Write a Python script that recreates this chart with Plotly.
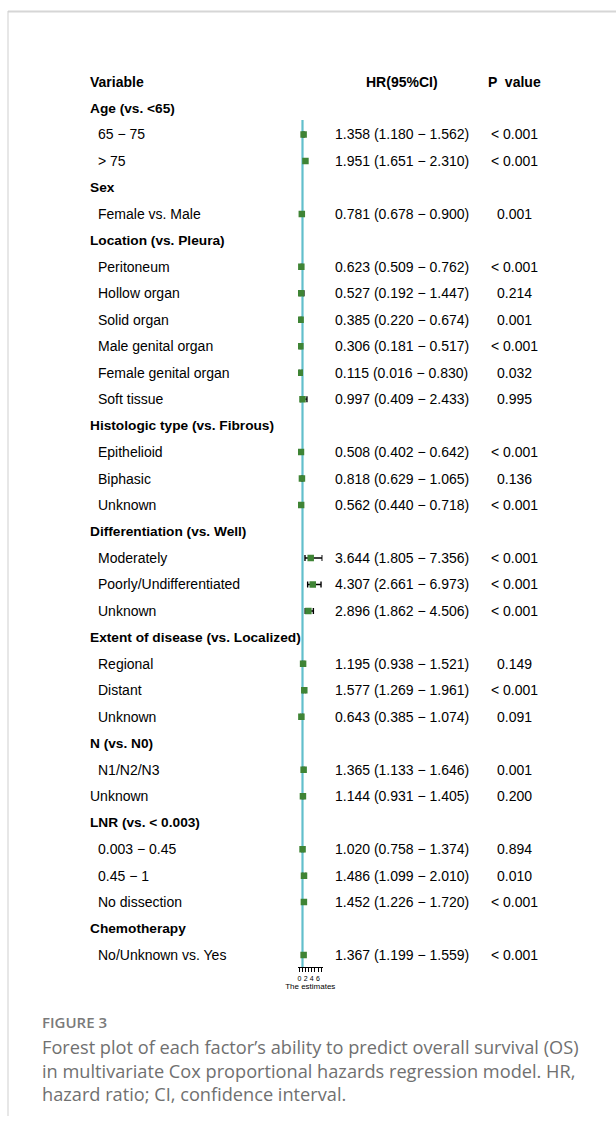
import plotly.graph_objects as go

# ---- data -------------------------------------------------------------
labels = [
    "Age (vs. <65)", "65 − 75", "> 75",
    "Sex", "Female vs. Male",
    "Location (vs. Pleura)", "Peritoneum", "Hollow organ", "Solid organ",
    "Male genital organ", "Female genital organ", "Soft tissue",
    "Histologic type (vs. Fibrous)", "Epithelioid", "Biphasic", "Unknown",
    "Differentiation (vs. Well)", "Moderately", "Poorly/Undifferentiated", "Unknown",
    "Extent of disease (vs. Localized)", "Regional", "Distant", "Unknown",
    "N (vs. N0)", "N1/N2/N3", "Unknown",
    "LNR (vs. < 0.003)", "0.003 − 0.45", "0.45 − 1", "No dissection",
    "Chemotherapy", "No/Unknown vs. Yes",
]
# row kind: group heading, indented level, or plain level
kinds = [
    "group", "item", "item",
    "group", "item",
    "group", "item", "item", "item", "item", "item", "item",
    "group", "item", "item", "item",
    "group", "item", "item", "item",
    "group", "item", "item", "item",
    "group", "item", "plain",
    "group", "item", "item", "item",
    "group", "item",
]
hr = [None, 1.358, 1.951, None, 0.781, None, 0.623, 0.527, 0.385, 0.306, 0.115, 0.997,
      None, 0.508, 0.818, 0.562, None, 3.644, 4.307, 2.896, None, 1.195, 1.577, 0.643,
      None, 1.365, 1.144, None, 1.020, 1.486, 1.452, None, 1.367]
ci_low = [None, 1.180, 1.651, None, 0.678, None, 0.509, 0.192, 0.220, 0.181, 0.016, 0.409,
          None, 0.402, 0.629, 0.440, None, 1.805, 2.661, 1.862, None, 0.938, 1.269, 0.385,
          None, 1.133, 0.931, None, 0.758, 1.099, 1.226, None, 1.199]
ci_high = [None, 1.562, 2.310, None, 0.900, None, 0.762, 1.447, 0.674, 0.517, 0.830, 2.433,
           None, 0.642, 1.065, 0.718, None, 7.356, 6.973, 4.506, None, 1.521, 1.961, 1.074,
           None, 1.646, 1.405, None, 1.374, 2.010, 1.720, None, 1.559]
p_values = ["", "< 0.001", "< 0.001", "", "0.001", "", "< 0.001", "0.214", "0.001", "< 0.001",
            "0.032", "0.995", "", "< 0.001", "0.136", "< 0.001", "", "< 0.001", "< 0.001",
            "< 0.001", "", "0.149", "< 0.001", "0.091", "", "0.001", "0.200", "", "0.894",
            "0.010", "< 0.001", "", "< 0.001"]
x_ticks = [0, 1, 2, 3, 4, 5, 6, 7]
x_tick_text = ["0", "", "2", "", "4", "", "6", ""]
caption_title = "FIGURE 3"
caption_lines = [
    "Forest plot of each factor’s ability to predict overall survival (OS)",
    "in multivariate Cox proportional hazards regression model. HR,",
    "hazard ratio; CI, confidence interval.",
]

# ---- page geometry ------------------------------------------------------
W, H = 616, 1124
ROW0_PX, ROW_STEP = 108.0, 26.47          # pixel centre of row 0, row pitch
AXIS_PX = 967                             # pixel row of the estimate axis


def px_to_row(py):
    return (py - ROW0_PX) / ROW_STEP


def fx(px):
    return px / W


def fy(py):
    return 1 - py / H


TEXT_FONT = "Liberation Sans, Arial, sans-serif"
CAP_FONT = "Open Sans, Lato, sans-serif"
GREEN = "#3f8435"
REF_LINE = "#62bfcc"

rows = list(range(len(labels)))
data_rows = [r for r in rows if hr[r] is not None]
est = [hr[r] for r in data_rows]
err_plus = [ci_high[r] - hr[r] for r in data_rows]
err_minus = [hr[r] - ci_low[r] for r in data_rows]

fig = go.Figure()

# reference line at HR = 1
fig.add_trace(go.Scatter(
    x=[1, 1], y=[px_to_row(120), px_to_row(AXIS_PX)],
    mode="lines", line=dict(color=REF_LINE, width=2.2),
    hoverinfo="skip", showlegend=False,
))

# point estimates with 95% CI whiskers
fig.add_trace(go.Scatter(
    x=est, y=data_rows, mode="markers",
    marker=dict(symbol="square", size=6.5, color=GREEN),
    error_x=dict(type="data", symmetric=False, array=err_plus, arrayminus=err_minus,
                 color="black", thickness=1.4, width=3),
    showlegend=False,
))

annotations = []


def add_text(text, px, row, anchor="left", bold=False, size=14, color="black"):
    annotations.append(dict(
        x=fx(px), xref="paper", y=row, yref="y", text=text, showarrow=False,
        xanchor=anchor, yanchor="middle",
        font=dict(family=TEXT_FONT, size=size, color=color,
                  weight="bold" if bold else "normal"),
    ))


# column headings
add_text("Variable", 88, -1, bold=True)
add_text("HR(95%CI)", 402, -1, anchor="center", bold=True)
add_text("P  value", 514, -1, anchor="center", bold=True)

for r in rows:
    kind = kinds[r]
    if kind == "group":
        add_text(labels[r], 88, r, bold=True, size=13.7)
    elif kind == "plain":
        add_text(labels[r], 88, r)
    else:
        add_text(labels[r], 96, r)
    if hr[r] is not None:
        add_text(f"{hr[r]:.3f} ({ci_low[r]:.3f} − {ci_high[r]:.3f})", 333, r)
        add_text(p_values[r], 514, r, anchor="center")

# caption
annotations.append(dict(
    x=fx(40), xref="paper", y=fy(1022), yref="paper", text=caption_title,
    showarrow=False, xanchor="left", yanchor="middle",
    font=dict(family=CAP_FONT, size=15, color="#7a7a7a", weight=600),
))
for i, line in enumerate(caption_lines):
    annotations.append(dict(
        x=fx(40), xref="paper", y=fy(1047 + 23.5 * i), yref="paper", text=line,
        showarrow=False, xanchor="left", yanchor="middle",
        font=dict(family=CAP_FONT, size=18.2, color="#707070"),
    ))

# frame lines of the figure panel
shapes = [
    dict(type="line", xref="paper", yref="paper", x0=fx(8), x1=1, y0=fy(11.5), y1=fy(11.5),
         line=dict(color="#d6d6d6", width=2)),
    dict(type="line", xref="paper", yref="paper", x0=fx(8), x1=fx(8), y0=fy(11), y1=fy(1116),
         line=dict(color="#cfcfcf", width=1)),
]

fig.update_layout(
    width=W, height=H, margin=dict(l=0, r=0, t=0, b=0),
    paper_bgcolor="white", plot_bgcolor="rgba(0,0,0,0)",
    annotations=annotations, shapes=shapes, showlegend=False,
    xaxis=dict(
        domain=[fx(298), fx(322.5)], range=[-0.45, 7.45],
        anchor="free", position=fy(AXIS_PX),
        showgrid=False, zeroline=False,
        showline=True, linecolor="black", linewidth=1.3,
        ticks="outside", ticklen=4, tickwidth=1, tickcolor="black",
        tickvals=x_ticks, ticktext=x_tick_text,
        tickfont=dict(family=TEXT_FONT, size=7, color="black"),
        title=dict(text="The estimates", standoff=1,
                   font=dict(family=TEXT_FONT, size=8, color="black")),
        fixedrange=True,
    ),
    yaxis=dict(
        domain=[0, 1], range=[px_to_row(H), px_to_row(0)],
        visible=False, fixedrange=True,
    ),
)

fig.write_html("out.html")
